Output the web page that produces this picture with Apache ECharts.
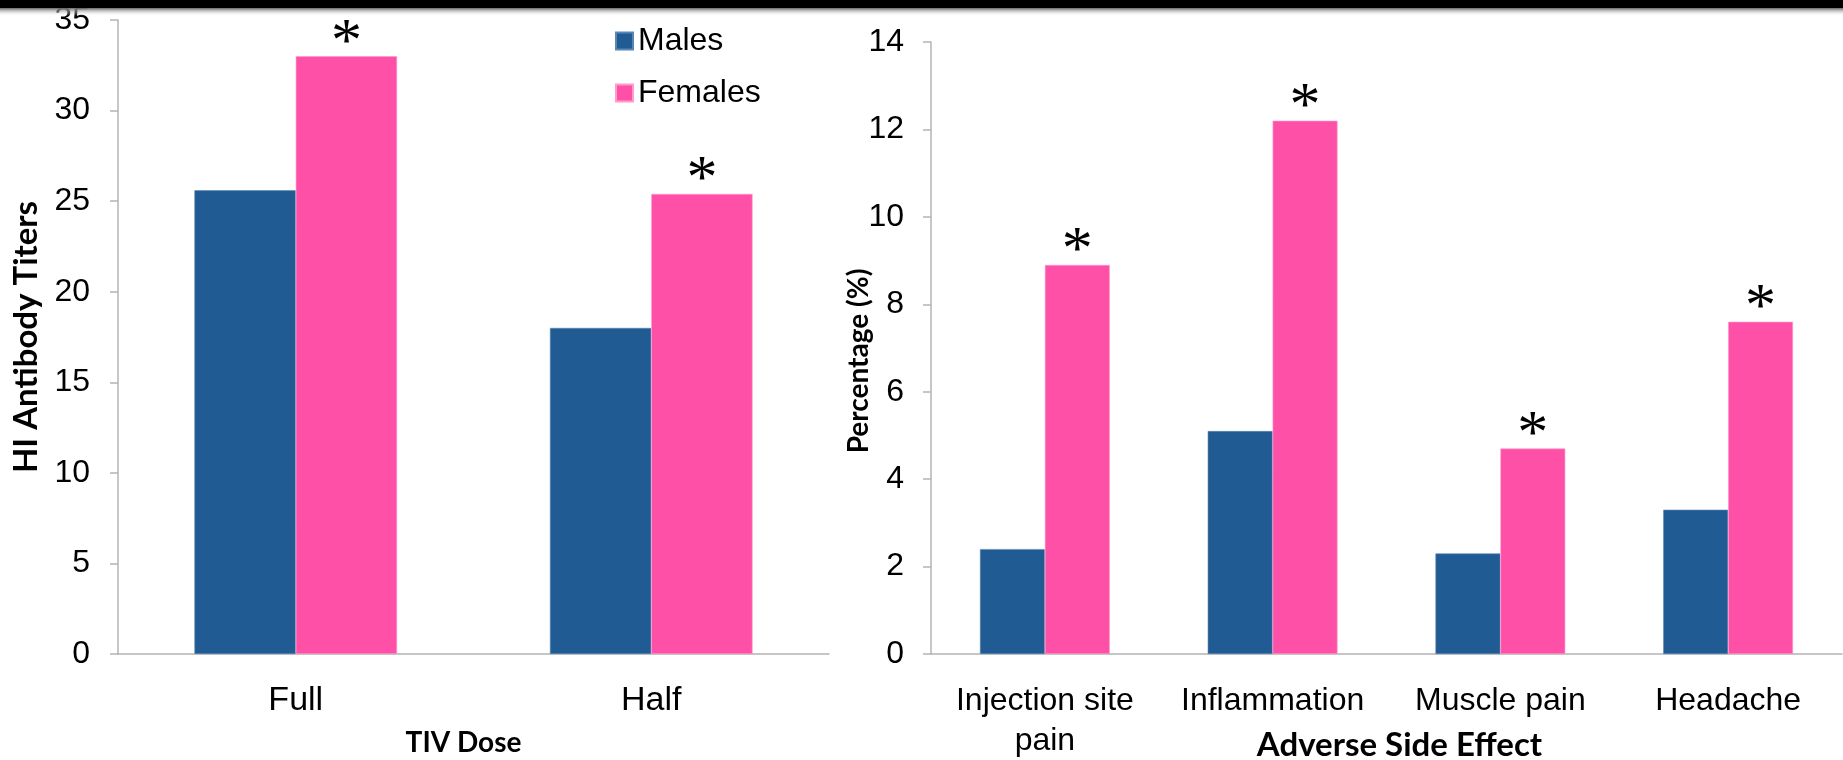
<!DOCTYPE html>
<html>
<head>
<meta charset="utf-8">
<script src="https://cdn.jsdelivr.net/npm/echarts@6/dist/echarts.min.js"></script>
<style>
  html, body { margin: 0; padding: 0; background: #fff; }
  #chart { width: 1843px; height: 760px; }
</style>
</head>
<body>
<div id="chart"></div>
<script>
// Left panel: HI antibody titers by TIV dose
const doseCategories = ['Full', 'Half'];
const titersMales = [25.6, 18.0];
const titersFemales = [33.0, 25.4];
const titerTicks = { min: 0, max: 35, interval: 5 };

// Right panel: adverse side effects (%)
const effectCategories = ['Injection site\npain', 'Inflammation', 'Muscle pain', 'Headache'];
const effectMales = [2.4, 5.1, 2.3, 3.3];
const effectFemales = [8.9, 12.2, 4.7, 7.6];
const effectTicks = { min: 0, max: 14, interval: 2 };

// Significance markers shown above the female bars
const femaleMarks = ['*', '*', '*', '*'];

const BLUE = '#215B94';
const PINK = '#FF50A8';
const AXIS_GRAY = '#b4b4b4';
const LABEL_FONT = '"Liberation Sans", Arial, sans-serif';
const TITLE_FONT = 'Lato, "Open Sans", sans-serif';

const chart = echarts.init(document.getElementById('chart'), null, { renderer: 'canvas' });

function titleStyle(size, pad) {
  return {
    fontFamily: TITLE_FONT, fontWeight: 'bold', fontSize: size, color: '#000',
    padding: pad
  };
}

function catAxis(gridIndex, data, name, nameGap, nameSize, namePad, labelSize) {
  return {
    type: 'category',
    gridIndex,
    data,
    name,
    nameLocation: 'middle',
    nameGap,
    nameMoveOverlap: false,
    nameTextStyle: titleStyle(nameSize, namePad),
    axisLine: { lineStyle: { color: AXIS_GRAY, width: 1.5 } },
    axisTick: { length: 11, lineStyle: { color: AXIS_GRAY, width: 1.5 } },
    axisLabel: {
      margin: 27, fontFamily: LABEL_FONT, fontSize: labelSize, color: '#000',
      lineHeight: 40, interval: 0
    },
    splitLine: { show: false }
  };
}

function valAxis(gridIndex, ticks, name, nameGap, nameSize, namePad, margin) {
  return {
    type: 'value',
    gridIndex,
    min: ticks.min,
    max: ticks.max,
    interval: ticks.interval,
    name,
    nameLocation: 'middle',
    nameGap,
    nameRotate: 90,
    nameMoveOverlap: false,
    nameTextStyle: titleStyle(nameSize, namePad),
    axisLine: { show: true, lineStyle: { color: AXIS_GRAY, width: 1.5 } },
    axisTick: { show: true, length: 8, lineStyle: { color: AXIS_GRAY, width: 1.5 } },
    axisLabel: { margin, fontFamily: LABEL_FONT, fontSize: 32, color: '#000' },
    splitLine: { show: false }
  };
}

function markLabel() {
  return {
    show: true,
    position: 'top',
    distance: -18,
    formatter: (p) => femaleMarks[p.dataIndex],
    fontFamily: '"Liberation Serif", "Times New Roman", serif',
    fontSize: 62,
    color: '#000'
  };
}

const option = {
  backgroundColor: '#fff',
  animation: false,
  legend: {
    orient: 'vertical',
    left: 610,
    top: 20,
    itemWidth: 17,
    itemHeight: 17,
    itemGap: 20,
    icon: 'rect',
    textStyle: { fontFamily: LABEL_FONT, fontSize: 32, color: '#000', lineHeight: 32 },
    data: ['Males', 'Females']
  },
  graphic: [
    { type: 'rect', shape: { x: 0, y: 0, width: 1843, height: 8 }, style: { fill: '#000' }, z: 100 },
    {
      type: 'rect', shape: { x: 0, y: 8, width: 1843, height: 8 }, z: 100,
      style: {
        fill: new echarts.graphic.LinearGradient(0, 0, 0, 1, [
          { offset: 0, color: '#6a6a6a' },
          { offset: 1, color: 'rgba(255,255,255,0)' }
        ])
      }
    }
  ],
  grid: [
    { left: 118, top: 20, width: 711, height: 634, outerBoundsMode: 'none', containLabel: false },
    { left: 931, top: 42, width: 911, height: 612, outerBoundsMode: 'none', containLabel: false }
  ],
  xAxis: [
    catAxis(0, doseCategories, 'TIV Dose', 75, 28, [0, 20, 0, 0], 34),
    catAxis(1, effectCategories, 'Adverse Side Effect', 75, 33, [0, 0, 0, 26], 32)
  ],
  yAxis: [
    valAxis(0, titerTicks, 'HI Antibody Titers', 75, 33, [0, 0, 0, 0], 28),
    valAxis(1, effectTicks, 'Percentage (%)', 58, 28, [0, 26, 0, 0], 27)
  ],
  series: [
    {
      name: 'Males', type: 'bar', xAxisIndex: 0, yAxisIndex: 0,
      data: titersMales, barGap: '0%', barCategoryGap: '43%',
      itemStyle: { color: BLUE, borderColor: '#5a86b4', borderWidth: 0.6 }
    },
    {
      name: 'Females', type: 'bar', xAxisIndex: 0, yAxisIndex: 0,
      data: titersFemales, barGap: '0%', barCategoryGap: '43%',
      itemStyle: { color: PINK, borderColor: '#ff9ccd', borderWidth: 0.6 },
      label: markLabel()
    },
    {
      name: 'Males', type: 'bar', xAxisIndex: 1, yAxisIndex: 1,
      data: effectMales, barGap: '0%', barCategoryGap: '43%',
      itemStyle: { color: BLUE, borderColor: '#5a86b4', borderWidth: 0.6 }
    },
    {
      name: 'Females', type: 'bar', xAxisIndex: 1, yAxisIndex: 1,
      data: effectFemales, barGap: '0%', barCategoryGap: '43%',
      itemStyle: { color: PINK, borderColor: '#ff9ccd', borderWidth: 0.6 },
      label: markLabel()
    }
  ]
};

chart.setOption(option);
</script>
</body>
</html>
